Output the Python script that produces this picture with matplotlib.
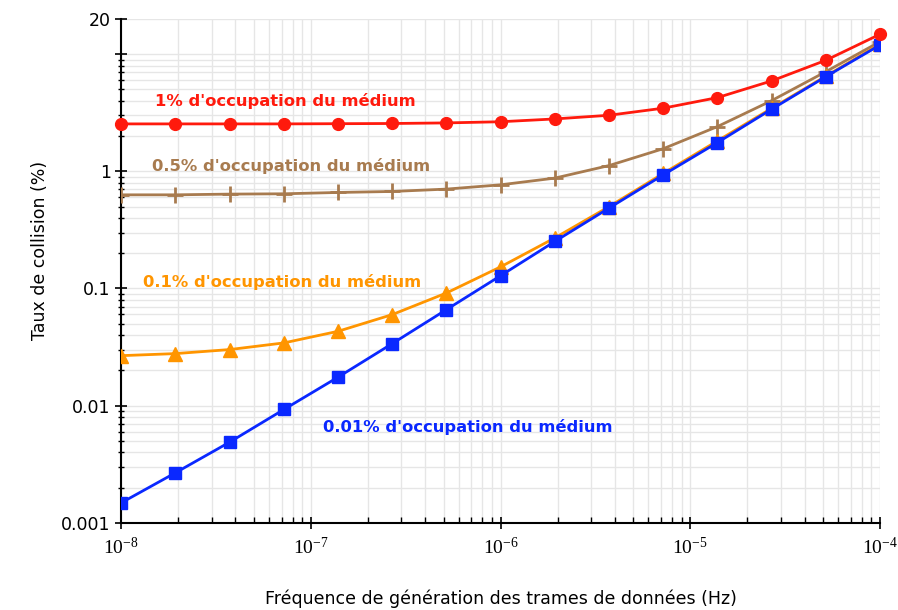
import matplotlib.pyplot as plt
from matplotlib.ticker import FixedLocator, NullFormatter

# frequency of frame generation (Hz)
freq = [1e-8, 1.93e-8, 3.73e-8, 7.2e-8, 1.39e-7, 2.68e-7, 5.18e-7, 1e-6,
        1.93e-6, 3.73e-6, 7.2e-6, 1.39e-5, 2.68e-5, 5.18e-5, 1e-4]

# collision rate (%) for each medium occupation
occ_1 = [2.54, 2.54, 2.54, 2.54, 2.55, 2.56, 2.59, 2.65,
         2.80, 3.01, 3.46, 4.26, 5.91, 8.87, 14.8]
occ_05 = [0.630, 0.630, 0.639, 0.643, 0.660, 0.673, 0.705, 0.767,
          0.875, 1.12, 1.56, 2.41, 4.01, 7.09, 12.8]
occ_01 = [0.0267, 0.0278, 0.0301, 0.0343, 0.0431, 0.0598, 0.0915, 0.153,
          0.270, 0.50, 0.96, 1.82, 3.45, 6.5, 12.2]
occ_001 = [0.00148, 0.00267, 0.00488, 0.00927, 0.0175, 0.0338, 0.066, 0.1286,
           0.252, 0.486, 0.933, 1.76, 3.39, 6.43, 11.98]

labels = ["1% d'occupation du médium", "0.5% d'occupation du médium",
          "0.1% d'occupation du médium", "0.01% d'occupation du médium"]

y_ticks = [0.001, 0.01, 0.1, 1, 10, 20]
y_ticklabels = ['0.001', '0.01', '0.1', '1', '', '20']
x_ticks = [1e-8, 1e-7, 1e-6, 1e-5, 1e-4]
x_ticklabels = [r'$\mathregular{10^{-8}}$', r'$\mathregular{10^{-7}}$',
                r'$\mathregular{10^{-6}}$', r'$\mathregular{10^{-5}}$',
                r'$\mathregular{10^{-4}}$']

fig = plt.figure(figsize=(8.98, 6.10), dpi=100)
ax = fig.add_axes([0.135, 0.143, 0.845, 0.826])

red = '#ff1a0d'
brown = '#a87b4f'
orange = '#ff9500'
blue = '#0a28ff'

ax.plot(freq, occ_001, color=blue, lw=2, marker='s', ms=8, zorder=5)
ax.plot(freq, occ_01, color=orange, lw=2, marker='^', ms=9.5, zorder=4)
ax.plot(freq, occ_05, color=brown, lw=2, marker='+', ms=12, mew=2, zorder=3)
ax.plot(freq, occ_1, color=red, lw=2, marker='o', ms=8.5, zorder=6, clip_on=False)

ax.set_xscale('log')
ax.set_yscale('log')
ax.set_xlim(1e-8, 1e-4)
ax.set_ylim(0.001, 20)

ax.yaxis.set_major_locator(FixedLocator(y_ticks))
ax.set_yticklabels(y_ticklabels)
minor_y = [m * d for d in [0.001, 0.01, 0.1, 1] for m in range(2, 10)]
ax.yaxis.set_minor_locator(FixedLocator(minor_y))
ax.yaxis.set_minor_formatter(NullFormatter())

ax.xaxis.set_major_locator(FixedLocator(x_ticks))
ax.set_xticklabels(x_ticklabels, family='Liberation Serif', fontsize=14)
minor_x = [m * d for d in [1e-8, 1e-7, 1e-6, 1e-5] for m in range(2, 10)]
ax.xaxis.set_minor_locator(FixedLocator(minor_x))
ax.xaxis.set_minor_formatter(NullFormatter())

ax.grid(True, which='both', color='#e6e6e6', lw=1, zorder=0)
ax.set_axisbelow(True)

for side in ['top', 'right']:
    ax.spines[side].set_visible(False)
for side in ['left', 'bottom']:
    ax.spines[side].set_linewidth(1.5)

ax.tick_params(axis='y', which='major', direction='inout', length=8, width=1.2, labelsize=12.5)
ax.tick_params(axis='y', which='minor', direction='inout', length=4, width=1)
ax.tick_params(axis='x', which='major', direction='inout', length=8, width=1.2, pad=6)
ax.tick_params(axis='x', which='minor', direction='in', length=4, width=1)

ax.set_ylabel('Taux de collision (%)', fontsize=12.5)
ax.yaxis.set_label_coords(-0.095, 0.54)
ax.set_xlabel('Fréquence de génération des trames de données (Hz)', fontsize=12.5)
ax.xaxis.set_label_coords(0.5, -0.133)

ax.text(1.5e-8, 3.95, labels[0], color=red, fontsize=11.8, fontweight='bold', va='center')
ax.text(1.45e-8, 1.12, labels[1], color=brown, fontsize=11.8, fontweight='bold', va='center')
ax.text(1.3e-8, 0.113, labels[2], color=orange, fontsize=11.8, fontweight='bold', va='center')
ax.text(1.16e-7, 0.0066, labels[3], color=blue, fontsize=11.8, fontweight='bold', va='center')

fig.savefig('out.png', dpi=100)
